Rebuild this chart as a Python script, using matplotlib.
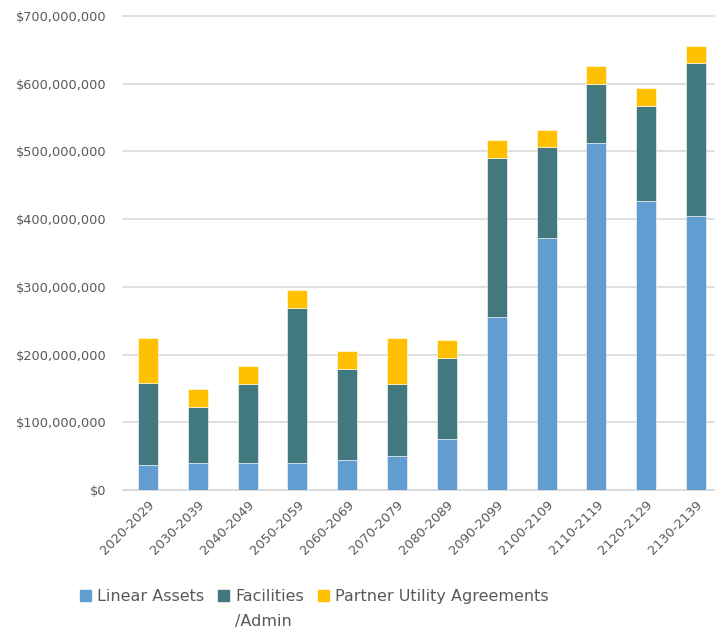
import numpy as np
import matplotlib.pyplot as plt
from matplotlib.ticker import FuncFormatter
from matplotlib.patches import Patch

# -----------------------------
# DATA
# -----------------------------
decades = ["2020-2029", "2030-2039", "2040-2049", "2050-2059", "2060-2069", "2070-2079",
           "2080-2089", "2090-2099", "2100-2109", "2110-2119", "2120-2129", "2130-2139"]

linear_assets = [37e6, 40e6, 40e6, 40e6, 45e6, 50e6, 75e6, 255e6, 372e6, 513e6, 427e6, 405e6]
facilities_admin = [121e6, 83e6, 117e6, 229e6, 134e6, 107e6, 120e6, 236e6, 134e6, 87e6, 140e6, 225e6]
partner_utility = [67e6, 26e6, 26e6, 26e6, 26e6, 67e6, 26e6, 26e6, 26e6, 26e6, 26e6, 25e6]

# -----------------------------
# STYLE
# -----------------------------
C_LINEAR = "#629DD1"
C_FAC = "#41797F"
C_PARTNER = "#FFC000"
TEXT = "#595959"
GRID = "#D9D9D9"

plt.rcParams['font.family'] = ['DejaVu Sans']

fig = plt.figure(figsize=(7.15, 6.41), dpi=100)
ax = fig.add_axes([123 / 715, 1 - 490 / 641, (714 - 123) / 715, (490 - 16) / 641])

x = np.arange(len(decades))
w = 0.40
lin = np.array(linear_assets)
fac = np.array(facilities_admin)
par = np.array(partner_utility)

ax.bar(x, lin, w, color=C_LINEAR, edgecolor="white", linewidth=0.4, zorder=3)
ax.bar(x, fac, w, bottom=lin, color=C_FAC, edgecolor="white", linewidth=0.4, zorder=3)
ax.bar(x, par, w, bottom=lin + fac, color=C_PARTNER, edgecolor="white", linewidth=0.4, zorder=3)

ax.set_ylim(0, 700e6)
ax.set_xlim(-0.5, 11.36)
ax.set_yticks(np.arange(0, 700e6 + 1, 100e6))
ax.yaxis.set_major_formatter(FuncFormatter(lambda v, p: "${:,.0f}".format(v)))
ax.grid(axis="y", color=GRID, linewidth=1.2, zorder=0, clip_on=False)
ax.set_axisbelow(True)

for s in ["top", "right", "left"]:
    ax.spines[s].set_visible(False)
ax.spines["bottom"].set_color(GRID)
ax.spines["bottom"].set_linewidth(1.2)

ax.tick_params(axis="y", length=0, pad=12, labelsize=9.3, labelcolor=TEXT)
ax.tick_params(axis="x", length=0, pad=6, labelsize=9.3, labelcolor=TEXT)
ax.set_xticks(x)
ax.set_xticklabels(decades, rotation=45, ha="right", rotation_mode="anchor")

# -----------------------------
# LEGEND
# -----------------------------
handles = [Patch(color=C_LINEAR), Patch(color=C_FAC), Patch(color=C_PARTNER)]
labels = ["Linear Assets", "Facilities", "Partner Utility Agreements"]
leg = fig.legend(handles, labels, loc="upper left", bbox_to_anchor=(80 / 715, 1 - 589 / 641),
                 ncol=3, frameon=False, fontsize=11.5, handlelength=0.7, handleheight=0.75,
                 handletextpad=0.35, columnspacing=0.9, borderpad=0, borderaxespad=0,
                 labelcolor=TEXT)

fig.canvas.draw()
fac_txt = leg.get_texts()[1]
bb = fac_txt.get_window_extent().transformed(fig.transFigure.inverted())
fig.text(bb.x0, bb.y0 - 0.016, "/Admin", ha="left", va="top", fontsize=11.5, color=TEXT)

fig.savefig("out.png", dpi=100)
